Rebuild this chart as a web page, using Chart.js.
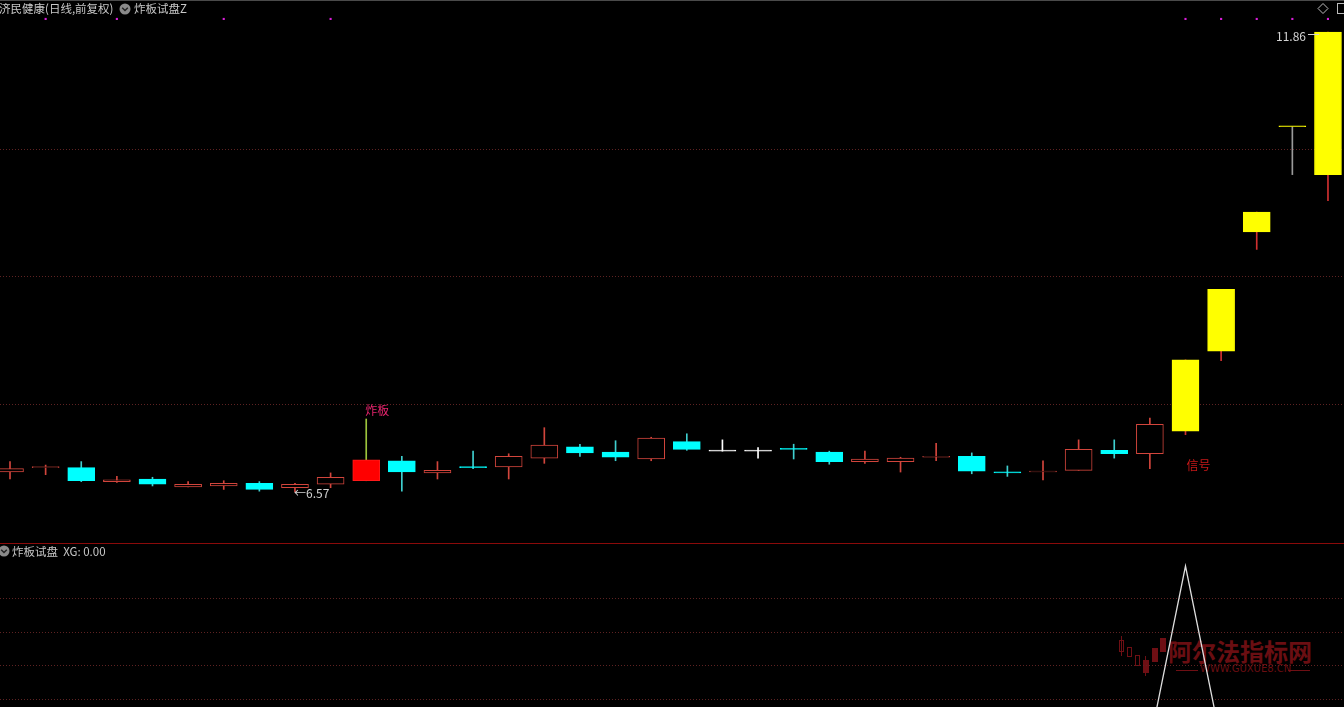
<!DOCTYPE html>
<html><head><meta charset="utf-8">
<script src="https://cdn.jsdelivr.net/npm/chart.js@4.4.1/dist/chart.umd.min.js"></script>
<style>
html,body{margin:0;padding:0;background:#000;width:1344px;height:707px;overflow:hidden;font-family:"Noto Sans CJK SC","Noto Sans",sans-serif;}
#topc{position:absolute;left:0;top:0;}
#botc{position:absolute;left:0;top:544px;}
.hdr{position:absolute;color:#c8c8c8;font-size:11.5px;line-height:16px;white-space:nowrap;}
#sep{position:absolute;left:0;top:543px;width:1344px;height:1px;background:#8a0a0a;}
#topline{position:absolute;left:0;top:0;width:1344px;height:1px;background:#4a4a4a;}
.wm{position:absolute;color:#6a0e12;white-space:nowrap;}
.wb{position:absolute;border:1px solid #6e0f14;box-sizing:border-box;}
.wf{position:absolute;background:#6e0f14;}
</style></head>
<body>
<div class="wm" style="left:1168px;top:633px;font-size:24px;font-weight:bold;font-family:'Noto Sans CJK SC';">阿尔法指标网</div>
<div class="wm" style="left:1200px;top:663px;font-size:10px;font-family:'DejaVu Sans';">WWW.GUXUE8.CN</div>
<div class="wf" style="left:1176px;top:670px;width:22px;height:1px;"></div>
<div class="wf" style="left:1288px;top:670px;width:22px;height:1px;"></div>
<div class="wb" style="left:1119px;top:640px;width:5px;height:12px;"></div>
<div class="wf" style="left:1121px;top:636px;width:1px;height:20px;"></div>
<div class="wb" style="left:1127px;top:647px;width:5px;height:10px;"></div>
<div class="wb" style="left:1135px;top:655px;width:5px;height:11px;"></div>
<div class="wf" style="left:1143px;top:660px;width:6px;height:13px;"></div>
<div class="wf" style="left:1145px;top:656px;width:1px;height:20px;"></div>
<div class="wf" style="left:1152px;top:648px;width:6px;height:14px;"></div>
<div class="wf" style="left:1160px;top:638px;width:6px;height:14px;"></div>
<canvas id="topc" width="1344" height="543"></canvas>
<canvas id="botc" width="1344" height="163"></canvas>
<div id="topline"></div>
<div id="sep"></div>
<div class="hdr" style="left:-1px;top:0px;">济民健康(日线,前复权)</div>
<svg style="position:absolute;left:119px;top:3px" width="12" height="12"><circle cx="6" cy="6" r="5.5" fill="#8a8a8a"/><polyline points="3.2,4.8 6,7.6 8.8,4.8" fill="none" stroke="#222" stroke-width="1.4"/></svg>
<div class="hdr" style="left:134px;top:0px;">炸板试盘Z</div>
<svg style="position:absolute;left:1317px;top:2px" width="27" height="14"><polygon points="6,1.5 11,6.5 6,11.5 1,6.5" fill="none" stroke="#bbb" stroke-width="1"/><rect x="20.5" y="1.5" width="8" height="10" fill="none" stroke="#bbb" stroke-width="1"/></svg>
<svg style="position:absolute;left:-2px;top:545px" width="12" height="12"><circle cx="6" cy="6" r="5.5" fill="#8a8a8a"/><polyline points="3.2,4.8 6,7.6 8.8,4.8" fill="none" stroke="#222" stroke-width="1.4"/></svg>
<div class="hdr" style="left:12px;top:543px;">炸板试盘&nbsp; XG: 0.00</div>
<script>
const open  = [6.80,6.85,6.85,6.69,6.72,6.63,6.64,6.67,6.62,6.66,6.70,6.93,6.79,6.86,6.86,6.96,7.09,7.03,6.95,7.15,7.04,7.04,7.07,7.03,6.92,6.92,6.97,6.98,6.80,6.80,6.82,7.05,7.01,7.27,8.19,9.56,10.77,10.22];
const close = [6.84,6.86,6.70,6.71,6.66,6.66,6.67,6.60,6.66,6.74,6.94,6.80,6.82,6.85,6.98,7.11,7.02,6.97,7.19,7.06,7.04,7.04,7.06,6.92,6.95,6.96,6.98,6.81,6.79,6.81,7.06,7.01,7.35,8.09,8.90,9.79,10.77,11.86];
const high  = [6.92,6.88,6.92,6.75,6.74,6.69,6.70,6.69,6.67,6.79,7.41,6.98,6.92,7.04,7.01,7.31,7.12,7.16,7.20,7.24,7.17,7.08,7.12,7.04,7.04,6.97,7.13,7.02,6.87,6.93,7.17,7.17,7.42,8.09,8.90,9.79,10.77,11.86];
const low   = [6.72,6.77,6.69,6.68,6.64,6.63,6.60,6.58,6.57,6.62,6.70,6.58,6.72,6.84,6.72,6.90,6.98,6.93,6.93,7.05,7.04,6.96,6.95,6.89,6.90,6.80,6.93,6.78,6.75,6.71,6.82,6.96,6.84,7.23,8.08,9.36,10.22,9.92];
const xg    = [0,0,0,0,0,0,0,0,0,0,0,0,0,0,0,0,0,0,0,0,0,0,0,0,0,0,0,0,0,0,0,0,0,1,0,0,0,0];
const topDotDays = [1,3,6,9,33,34,35,36,37];
const topDotLevel = 12.01;
const priceGridTicks = [7.58, 9.05, 10.51];
const xgGridTicks = [0.239, 0.432, 0.625, 0.818];
const days = open.map((_, i) => i);

const sigIdx = xg.indexOf(1);
function isZhaBan(i){
  if (i === 0) return false;
  const lim = Math.round(close[i-1] * 110) / 100;
  return high[i] >= lim - 0.001 && close[i] < high[i] - 0.001;
}
const RED = '#d2453c', CYAN = '#00ffff', WHITE = '#ffffff', YEL = '#ffff00';
const bodyFill = [], bodyBorder = [], wickCol = [];
days.forEach(i => {
  if (sigIdx >= 0 && i >= sigIdx) {
    bodyFill.push(YEL); bodyBorder.push(YEL);
    wickCol.push(close[i] === open[i] ? '#9a9a9a' : '#d03030');
  } else if (isZhaBan(i)) {
    bodyFill.push('#ff0000'); bodyBorder.push('#ff1a1a'); wickCol.push('#9cc43c');
  } else if (close[i] > open[i]) {
    bodyFill.push('#000000'); bodyBorder.push(RED); wickCol.push(RED);
  } else if (close[i] < open[i]) {
    bodyFill.push(CYAN); bodyBorder.push(CYAN); wickCol.push('#3fcfcf');
  } else {
    bodyFill.push(WHITE); bodyBorder.push(WHITE); wickCol.push(WHITE);
  }
});
const zbIdx = days.find(i => isZhaBan(i) && !(sigIdx >= 0 && i >= sigIdx));

const X_MIN = -0.281, X_MAX = 37.45;

const labelPlugin = {
  id: 'labels',
  afterDatasetsDraw(chart) {
    const ctx = chart.ctx, xs = chart.scales.x, ys = chart.scales.y;
    ctx.save();
    ctx.font = '12px "Noto Sans CJK SC", sans-serif';
    ctx.textBaseline = 'middle';
    if (zbIdx !== undefined) {
      ctx.fillStyle = '#e8246e'; ctx.textAlign = 'left';
      ctx.fillText('炸板', xs.getPixelForValue(zbIdx) - 1, ys.getPixelForValue(high[zbIdx]) - 9);
    }
    if (sigIdx >= 0) {
      ctx.fillStyle = '#c81818'; ctx.textAlign = 'left';
      ctx.fillText('信号', xs.getPixelForValue(sigIdx) + 1, ys.getPixelForValue(low[sigIdx]) + 31);
    }
    const minV = Math.min(...low), minI = low.indexOf(minV);
    const maxV = Math.max(...high), maxI = high.lastIndexOf(maxV);
    ctx.fillStyle = '#d4d4d4'; ctx.textAlign = 'left';
    ctx.fillText('←' + minV.toFixed(2), xs.getPixelForValue(minI) - 1, ys.getPixelForValue(minV) + 1);
    const hx = xs.getPixelForValue(maxI), hy = ys.getPixelForValue(maxV);
    ctx.textAlign = 'right';
    ctx.fillText(maxV.toFixed(2), hx - 22, hy + 4);
    ctx.strokeStyle = '#d4d4d4'; ctx.lineWidth = 1;
    ctx.beginPath(); ctx.moveTo(hx - 20, hy + 2.5); ctx.lineTo(hx - 9, hy + 2.5); ctx.stroke();
    ctx.restore();
  }
};

new Chart(document.getElementById('topc'), {
  type: 'bar',
  data: {
    datasets: [
      { type: 'line', data: topDotDays.map(i => ({x: i, y: topDotLevel})), showLine: false, borderWidth: 0,
        pointStyle: 'rect', pointRadius: 1.5, pointBackgroundColor: '#d81ed8', pointBorderWidth: 0 },
      { data: days.map(i => ({x: i, y: [open[i], close[i]]})), barThickness: 27, grouped: false,
        backgroundColor: bodyFill, borderColor: bodyBorder, borderWidth: 1, borderSkipped: false, minBarLength: 1 },
      { data: days.map(i => ({x: i, y: [low[i], high[i]]})), barThickness: 1, grouped: false,
        backgroundColor: wickCol, borderWidth: 0 }
    ]
  },
  options: {
    responsive: false, devicePixelRatio: 1, animation: false,
    layout: { padding: 0, autoPadding: false },
    plugins: { legend: { display: false }, tooltip: { enabled: false } },
    scales: {
      x: { type: 'linear', min: X_MIN, max: X_MAX, display: false, offset: false },
      y: { type: 'linear', min: 5.984, max: 12.228, display: true,
           afterFit(s) { s.width = 0; },
           afterBuildTicks(s) { s.ticks = priceGridTicks.map(v => ({ value: v })); },
           ticks: { display: false },
           grid: { color: '#5e2222', lineWidth: 1, drawTicks: false },
           border: { display: false, dash: [1, 2] } }
    }
  },
  plugins: [labelPlugin]
});

new Chart(document.getElementById('botc'), {
  type: 'line',
  data: {
    datasets: [
      { data: days.map(i => ({x: i, y: xg[i]})), borderColor: '#dedede', borderWidth: 1.3,
        pointRadius: 0, tension: 0, fill: false }
    ]
  },
  options: {
    responsive: false, devicePixelRatio: 1, animation: false,
    layout: { padding: 0, autoPadding: false },
    plugins: { legend: { display: false }, tooltip: { enabled: false } },
    scales: {
      x: { type: 'linear', min: X_MIN, max: X_MAX, display: false },
      y: { type: 'linear', min: 0.199, max: 1.125, display: true,
           afterFit(s) { s.width = 0; },
           afterBuildTicks(s) { s.ticks = xgGridTicks.map(v => ({ value: v })); },
           ticks: { display: false },
           grid: { color: '#5e2222', lineWidth: 1, drawTicks: false },
           border: { display: false, dash: [1, 2] } }
    }
  }
});
</script>
</body></html>
